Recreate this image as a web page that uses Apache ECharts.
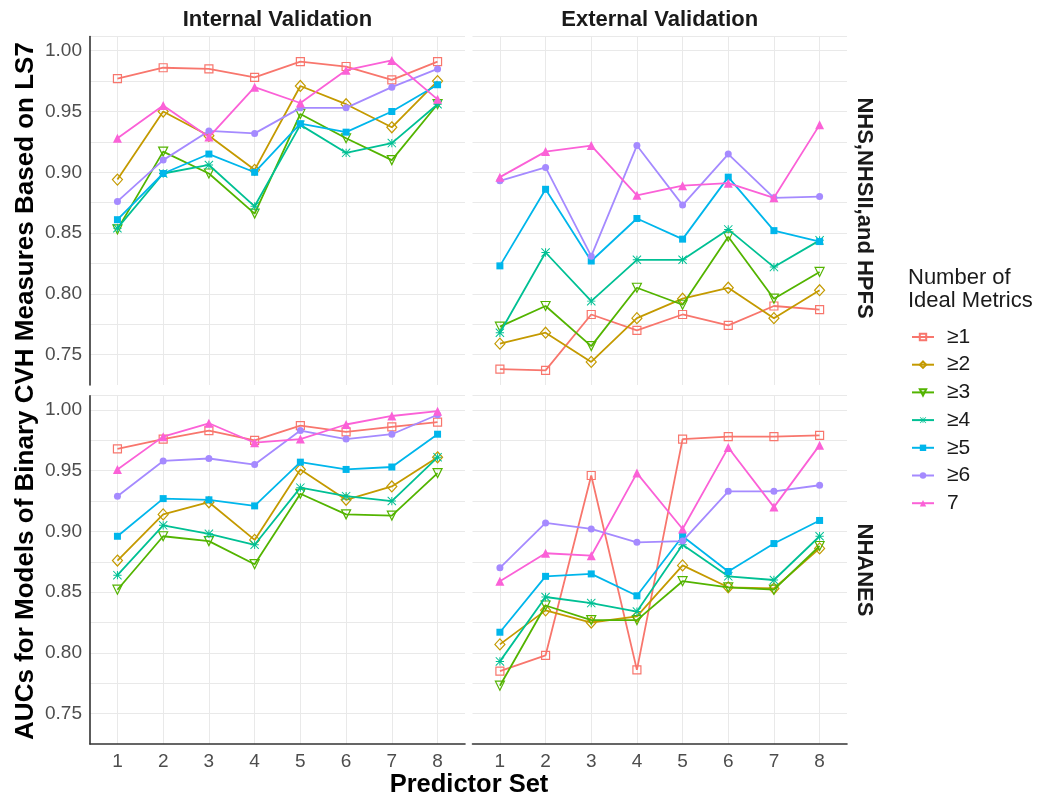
<!DOCTYPE html>
<html><head><meta charset="utf-8">
<script src="https://cdn.jsdelivr.net/npm/echarts@6/dist/echarts.min.js"></script>
<style>html,body{margin:0;padding:0;background:#fff}#c{width:1040px;height:799px}</style>
</head><body><div id="c"></div>
<script>
// ---------- data ----------
const predictorSets = [1, 2, 3, 4, 5, 6, 7, 8];
const groups = ['≥1', '≥2', '≥3', '≥4', '≥5', '≥6', '7'];
const columnLabels = ['Internal Validation', 'External Validation'];
const rowLabels = ['NHS,NHSII,and HPFS', 'NHANES'];
const yTickLabels = [0.75, 0.80, 0.85, 0.90, 0.95, 1.00];

// rows: ≥1, ≥2, ≥3, ≥4, ≥5, ≥6, 7
const nhsInternal = [
  [0.977, 0.986, 0.985, 0.978, 0.991, 0.987, 0.976, 0.991],
  [0.894, 0.950, 0.930, 0.902, 0.971, 0.956, 0.937, 0.975],
  [0.853, 0.917, 0.899, 0.866, 0.948, 0.928, 0.910, 0.956],
  [0.854, 0.899, 0.906, 0.872, 0.939, 0.916, 0.924, 0.956],
  [0.861, 0.899, 0.915, 0.900, 0.940, 0.933, 0.950, 0.972],
  [0.876, 0.910, 0.934, 0.932, 0.953, 0.953, 0.970, 0.985],
  [0.928, 0.955, 0.929, 0.970, 0.957, 0.984, 0.992, 0.960]
];
const nhsExternal = [
  [0.738, 0.737, 0.783, 0.770, 0.783, 0.774, 0.790, 0.787],
  [0.759, 0.768, 0.744, 0.780, 0.796, 0.805, 0.780, 0.803],
  [0.773, 0.790, 0.757, 0.805, 0.791, 0.847, 0.796, 0.818],
  [0.768, 0.834, 0.794, 0.828, 0.828, 0.853, 0.822, 0.844],
  [0.823, 0.886, 0.827, 0.862, 0.845, 0.896, 0.852, 0.843],
  [0.893, 0.904, 0.831, 0.922, 0.873, 0.915, 0.879, 0.880],
  [0.896, 0.917, 0.922, 0.881, 0.889, 0.891, 0.879, 0.939]
];
const nhanesInternal = [
  [0.968, 0.976, 0.983, 0.975, 0.987, 0.982, 0.986, 0.990],
  [0.876, 0.914, 0.924, 0.893, 0.951, 0.926, 0.937, 0.961],
  [0.852, 0.896, 0.892, 0.873, 0.931, 0.914, 0.913, 0.948],
  [0.864, 0.905, 0.898, 0.889, 0.936, 0.929, 0.925, 0.961],
  [0.896, 0.927, 0.926, 0.921, 0.957, 0.951, 0.953, 0.980],
  [0.929, 0.958, 0.960, 0.955, 0.983, 0.976, 0.980, 0.996],
  [0.951, 0.978, 0.989, 0.973, 0.976, 0.988, 0.995, 0.999]
];
const nhanesExternal = [
  [0.785, 0.798, 0.946, 0.786, 0.976, 0.978, 0.978, 0.979],
  [0.807, 0.835, 0.825, 0.830, 0.872, 0.854, 0.853, 0.886],
  [0.773, 0.839, 0.827, 0.827, 0.859, 0.854, 0.852, 0.888],
  [0.793, 0.846, 0.841, 0.834, 0.889, 0.863, 0.860, 0.896],
  [0.817, 0.863, 0.865, 0.847, 0.896, 0.867, 0.890, 0.909],
  [0.870, 0.907, 0.902, 0.891, 0.892, 0.933, 0.933, 0.938],
  [0.859, 0.882, 0.880, 0.948, 0.902, 0.969, 0.920, 0.971]
];

// ---------- styles ----------
const colors = ['#F8766D', '#C49A00', '#53B400', '#00C094', '#00B6EB', '#A58AFF', '#FB61D7'];
const FONT = "'Liberation Sans', Arial, Helvetica, sans-serif";
const asterisk = 'path://M44,0L56,0L56,100L44,100Z M0,44L100,44L100,56L0,56Z M4.2,-4.2L104.2,95.8L95.8,104.2L-4.2,4.2Z M95.8,-4.2L104.2,4.2L4.2,104.2L-4.2,95.8Z';
const markers = [
  { symbol: 'rect', size: 8, hollow: true },
  { symbol: 'diamond', size: [10, 11], hollow: true },
  { symbol: 'triangle', size: 9, rotate: 180, hollow: true },
  { symbol: asterisk, size: 9, hollow: false },
  { symbol: 'rect', size: 7, hollow: false },
  { symbol: 'circle', size: 7, hollow: false },
  { symbol: 'triangle', size: 9, hollow: false }
];

const panels = [
  { rect: { left: 90, top: 36.5, width: 375, height: 348.5 }, values: nhsInternal, yLab: true, xLab: false },
  { rect: { left: 472.5, top: 36.5, width: 374.5, height: 348.5 }, values: nhsExternal, yLab: false, xLab: false },
  { rect: { left: 90, top: 395.7, width: 375, height: 348.3 }, values: nhanesInternal, yLab: true, xLab: true },
  { rect: { left: 472.5, top: 395.7, width: 374.5, height: 348.3 }, values: nhanesExternal, yLab: false, xLab: true }
];

const gridColor = '#e9e9e9';
const axisLineStyle = { color: '#333333', width: 1.6 };

const grids = [], xAxes = [], yAxes = [], series = [];
panels.forEach((p, pi) => {
  grids.push(Object.assign({ containLabel: false }, p.rect));
  xAxes.push({
    type: 'value', gridIndex: pi, min: 0.4, max: 8.6,
    axisLine: { show: p.xLab, onZero: false, lineStyle: axisLineStyle },
    axisTick: { show: false, customValues: predictorSets },
    axisLabel: { show: p.xLab, customValues: predictorSets, fontSize: 19, color: '#4d4d4d', fontFamily: FONT, margin: 8 },
    splitLine: { show: true, lineStyle: { color: gridColor, width: 1 } }
  });
  yAxes.push({
    type: 'value', gridIndex: pi, min: 0.725, max: 1.0117, interval: 0.025,
    axisLine: { show: p.yLab, onZero: false, lineStyle: axisLineStyle },
    axisTick: { show: false },
    axisLabel: {
      show: p.yLab, fontSize: 19, color: '#4d4d4d', fontFamily: FONT, margin: 8,
      showMinLabel: true, showMaxLabel: false,
      formatter: v => yTickLabels.some(t => Math.abs(t - v) < 1e-6) ? v.toFixed(2) : ''
    },
    splitLine: { show: true, showMinLine: false, lineStyle: { color: gridColor, width: 1 } }
  });
  p.values.forEach((row, g) => {
    const m = markers[g];
    const c = colors[g];
    series.push({
      type: 'line', name: groups[g], xAxisIndex: pi, yAxisIndex: pi,
      data: predictorSets.map((x, i) => [x, row[i]]),
      symbol: m.symbol, symbolSize: m.size, symbolRotate: m.rotate || 0,
      showSymbol: true, silent: true, z: 2 + g,
      lineStyle: { color: c, width: 1.8 },
      itemStyle: m.hollow
        ? { color: 'rgba(255,255,255,0)', borderColor: c, borderWidth: 1.2 }
        : { color: c, borderWidth: 0 },
      emphasis: { disabled: true }
    });
  });
});

const stripStyle = { fontSize: 22, fontWeight: 'bold', fill: '#1a1a1a', fontFamily: FONT, textAlign: 'center', textVerticalAlign: 'middle' };
const graphics = [
  { type: 'text', x: 277.5, y: 20, style: Object.assign({ text: columnLabels[0] }, stripStyle) },
  { type: 'text', x: 659.7, y: 20, style: Object.assign({ text: columnLabels[1] }, stripStyle) },
  { type: 'text', x: 864, y: 208, rotation: -Math.PI / 2, style: Object.assign({ text: rowLabels[0] }, stripStyle) },
  { type: 'text', x: 864, y: 570, rotation: -Math.PI / 2, style: Object.assign({ text: rowLabels[1] }, stripStyle) },
  { type: 'text', x: 26, y: 391, rotation: Math.PI / 2,
    style: { text: 'AUCs for Models of Binary CVH Measures Based on LS7', fontSize: 26, fontWeight: 'bold', fill: '#000', fontFamily: FONT, textAlign: 'center', textVerticalAlign: 'middle' } },
  { type: 'text', x: 469, y: 785, style: { text: 'Predictor Set', fontSize: 25.5, fontWeight: 'bold', fill: '#000', fontFamily: FONT, textAlign: 'center', textVerticalAlign: 'middle' } },
  { type: 'text', x: 908, y: 277.5, style: { text: 'Number of', fontSize: 22, fill: '#1a1a1a', fontFamily: FONT, textAlign: 'left', textVerticalAlign: 'middle' } },
  { type: 'text', x: 908, y: 300.5, style: { text: 'Ideal Metrics', fontSize: 22, fill: '#1a1a1a', fontFamily: FONT, textAlign: 'left', textVerticalAlign: 'middle' } }
];

const chart = echarts.init(document.getElementById('c'), null, { renderer: 'canvas' });
chart.setOption({
  animation: false,
  backgroundColor: '#ffffff',
  grid: grids,
  xAxis: xAxes,
  yAxis: yAxes,
  series: series,
  legend: {
    data: groups, orient: 'vertical', left: 911, top: 326.5, padding: 0,
    itemWidth: 22, itemHeight: 8, itemGap: 6.7, selectedMode: false,
    textStyle: { fontSize: 21, color: '#1a1a1a', fontFamily: FONT, padding: [0, 0, 0, 8] }
  },
  graphic: graphics
});
</script></body></html>
